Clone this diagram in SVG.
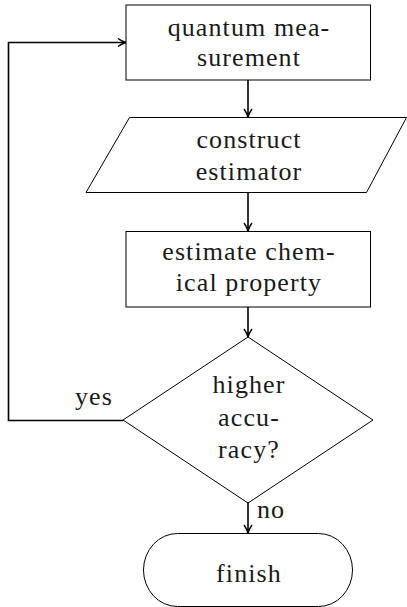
<svg xmlns="http://www.w3.org/2000/svg" width="407" height="607" viewBox="0 0 407 607">
<defs>
<style>
.shape{fill:#fff;stroke:#000;stroke-width:1}
.edge{fill:none;stroke:#000;stroke-width:1.6}
text{font-family:"Liberation Serif","Times New Roman",serif;font-size:26px;letter-spacing:1.1px;fill:#1a1a1a;text-anchor:middle}
.lbl{text-anchor:start}
</style>
<marker id="arr" viewBox="0 0 10 10" refX="9" refY="5" markerWidth="10" markerHeight="10" markerUnits="userSpaceOnUse" orient="auto">
<path d="M1,1 Q5,4 9,5 Q5,6 1,9" fill="none" stroke="#000" stroke-width="1.4"/>
</marker>
</defs>
<g id="connectors">
<path class="edge" d="M248,80 V117" marker-end="url(#arr)"/>
<path class="edge" d="M248,193 V231" marker-end="url(#arr)"/>
<path class="edge" d="M248,307 V337" marker-end="url(#arr)"/>
<path class="edge" d="M248,503 V533" marker-end="url(#arr)"/>
<path class="edge" d="M123,420.5 H8.5 V42.5 H126" marker-end="url(#arr)"/>
<text class="lbl" x="75" y="405">yes</text>
<text class="lbl" x="257" y="518">no</text>
</g>
<g id="n1">
<rect class="shape" x="126" y="5" width="244.5" height="75"/>
<text x="249" y="36">quantum mea-</text>
<text x="249" y="66">surement</text>
</g>
<g id="n2">
<polygon class="shape" points="129.5,117.5 406.5,117.5 366.5,192.5 86,192.5"/>
<text x="249" y="148">construct</text>
<text x="249" y="180">estimator</text>
</g>
<g id="n3">
<rect class="shape" x="126" y="231.5" width="244.5" height="75.5"/>
<text x="249" y="260">estimate chem-</text>
<text x="249" y="291">ical property</text>
</g>
<g id="n4">
<polygon class="shape" points="248,337 373,420 248,503 123,420"/>
<text x="249" y="393">higher</text>
<text x="249" y="426">accu-</text>
<text x="249" y="458">racy?</text>
</g>
<g id="n5">
<rect class="shape" x="143.5" y="533.5" width="209" height="73" rx="34" ry="36.5"/>
<text x="249" y="582">finish</text>
</g>
</svg>
